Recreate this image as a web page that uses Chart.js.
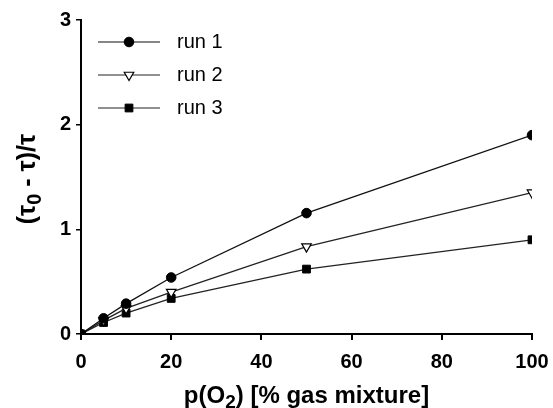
<!DOCTYPE html>
<html>
<head>
<meta charset="utf-8">
<script src="https://cdn.jsdelivr.net/npm/chart.js@4/dist/chart.umd.min.js"></script>
<style>
  html, body { margin: 0; padding: 0; background: #fff; }
  #wrap { width: 553px; height: 408px; }
</style>
</head>
<body>
<div id="wrap"><canvas id="quenchChart"></canvas></div>
<script>
// values
const oxygen = [0, 5, 10, 20, 50, 100];
const run1 = [0, 0.15, 0.29, 0.54, 1.155, 1.90];
const run2 = [0, 0.13, 0.245, 0.40, 0.835, 1.35];
const run3 = [0, 0.11, 0.20, 0.34, 0.62, 0.90];
const seriesLabels = ['run 1', 'run 2', 'run 3'];
const xTicks = [0, 20, 40, 60, 80, 100];
const yTicks = [0, 1, 2, 3];

const FONT = '"Liberation Sans", Arial, sans-serif';

function toPoints(ys) {
    return oxygen.map((x, i) => ({ x: x, y: ys[i] }));
}

// draws text with subscript parts, centred on cx, baseline at cy
function drawRich(ctx, parts, cx, cy, size) {
    const subSize = Math.round(size * 0.8);
    let total = 0;
    parts.forEach(p => {
        ctx.font = `bold ${p.sub ? subSize : size}px ${FONT}`;
        p.w = ctx.measureText(p.t).width;
        total += p.w;
    });
    let x = cx - total / 2;
    parts.forEach(p => {
        ctx.font = `bold ${p.sub ? subSize : size}px ${FONT}`;
        ctx.fillText(p.t, x, p.sub ? cy + size * 0.22 : cy);
        x += p.w;
    });
}

const extras = {
    id: 'extras',
    afterDraw(chart) {
        const ctx = chart.ctx;
        const area = chart.chartArea;
        ctx.save();
        ctx.fillStyle = '#000';
        ctx.textAlign = 'left';
        ctx.textBaseline = 'alphabetic';

        // x title
        drawRich(ctx, [
            { t: 'p(O' }, { t: '2', sub: true }, { t: ') [% gas mixture]' }
        ], (area.left + area.right) / 2, 403, 24);

        // y title, rotated
        ctx.save();
        ctx.translate(35, 179);
        ctx.rotate(-Math.PI / 2);
        drawRich(ctx, [
            { t: '(τ' }, { t: '0', sub: true }, { t: ' - τ)/τ' }
        ], 0, 0, 25);
        ctx.restore();

        // legend inside the plot
        const rows = [42, 75, 108];
        chart.data.datasets.forEach((ds, i) => {
            const y = rows[i];
            ctx.strokeStyle = ds.borderColor;
            ctx.lineWidth = 1.2;
            ctx.beginPath();
            ctx.moveTo(98, y);
            ctx.lineTo(160, y);
            ctx.stroke();
            ctx.fillStyle = ds.pointBackgroundColor;
            ctx.strokeStyle = ds.pointBorderColor;
            ctx.lineWidth = ds.pointBorderWidth;
            Chart.helpers.drawPoint(ctx, {
                pointStyle: ds.pointStyle,
                rotation: ds.pointRotation || 0,
                radius: ds.pointRadius,
                borderWidth: ds.pointBorderWidth
            }, 129, y);
            ctx.fillStyle = '#000';
            ctx.font = `20px ${FONT}`;
            ctx.textBaseline = 'middle';
            ctx.fillText(ds.label, 177, y);
            ctx.textBaseline = 'alphabetic';
        });
        ctx.restore();
    }
};

const data = {
    datasets: [{
        label: seriesLabels[0],
        data: toPoints(run1),
        borderColor: '#111',
        borderWidth: 1.3,
        pointStyle: 'circle',
        pointRadius: 4.8,
        pointBackgroundColor: '#000',
        pointBorderColor: '#000',
        pointBorderWidth: 1
    }, {
        label: seriesLabels[1],
        data: toPoints(run2),
        borderColor: '#222',
        borderWidth: 1.3,
        pointStyle: 'triangle',
        pointRotation: 180,
        pointRadius: 5.5,
        pointBackgroundColor: '#fff',
        pointBorderColor: '#000',
        pointBorderWidth: 1.2
    }, {
        label: seriesLabels[2],
        data: toPoints(run3),
        borderColor: '#222',
        borderWidth: 1.3,
        pointStyle: 'rect',
        pointRadius: 5.5,
        pointBackgroundColor: '#000',
        pointBorderColor: '#000',
        pointBorderWidth: 1
    }]
};

const tickFont = { family: FONT, size: 20, weight: 'bold' };

const config = {
    type: 'line',
    data: data,
    options: {
        responsive: true,
        maintainAspectRatio: false,
        animation: false,
        layout: { padding: { left: 0, top: 20, right: 21, bottom: 0 } },
        scales: {
            x: {
                type: 'linear',
                min: 0,
                max: 100,
                afterBuildTicks: s => { s.ticks = xTicks.map(v => ({ value: v })); },
                afterFit: s => { s.height = 74; s.paddingLeft = 0; s.paddingRight = 0; },
                ticks: { color: '#000', font: tickFont, padding: 10 },
                border: { display: true, color: '#000', width: 2 },
                grid: { drawOnChartArea: false, drawTicks: true, tickLength: 6, color: '#000', lineWidth: 2 }
            },
            y: {
                min: 0,
                max: 3,
                afterBuildTicks: s => { s.ticks = yTicks.map(v => ({ value: v })); },
                afterFit: s => { s.width = 81; s.paddingTop = 0; s.paddingBottom = 0; },
                ticks: { color: '#000', font: tickFont, padding: 5 },
                border: { display: true, color: '#000', width: 2 },
                grid: { drawOnChartArea: false, drawTicks: true, tickLength: 5, color: '#000', lineWidth: 1.5 }
            }
        },
        plugins: { legend: { display: false }, tooltip: { enabled: false } }
    },
    plugins: [extras]
};

new Chart(document.getElementById('quenchChart'), config);
</script>
</body>
</html>
